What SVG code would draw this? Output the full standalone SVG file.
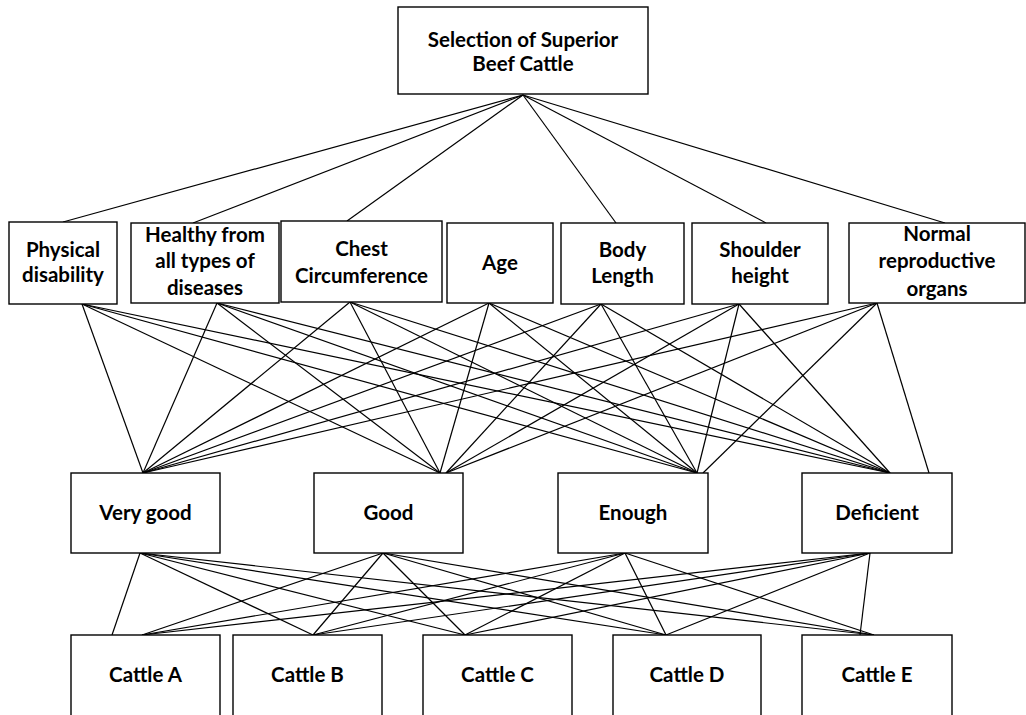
<svg xmlns="http://www.w3.org/2000/svg" width="1026" height="715" viewBox="0 0 1026 715">
<style>
.box{fill:#fff;stroke:#000;stroke-width:1.4}
text{font-family:Lato,"Liberation Sans",sans-serif;font-weight:bold;font-size:20.5px;fill:#000;text-anchor:middle}
#connectors line{stroke:#000;stroke-width:1.2}
</style>
<rect width="1026" height="715" fill="#fff"/>
<g id="connectors">
<line x1="523" y1="95" x2="63" y2="222"/>
<line x1="523" y1="95" x2="193" y2="223"/>
<line x1="523" y1="95" x2="347" y2="221"/>
<line x1="523" y1="95" x2="616" y2="223"/>
<line x1="523" y1="95" x2="766" y2="223"/>
<line x1="523" y1="95" x2="945" y2="223"/>
<line x1="82" y1="304" x2="143" y2="473"/>
<line x1="82" y1="304" x2="440" y2="473"/>
<line x1="82" y1="304" x2="697" y2="473"/>
<line x1="82" y1="304" x2="890" y2="473"/>
<line x1="217" y1="303" x2="143" y2="473"/>
<line x1="217" y1="303" x2="440" y2="473"/>
<line x1="217" y1="303" x2="697" y2="473"/>
<line x1="217" y1="303" x2="890" y2="473"/>
<line x1="350" y1="302" x2="143" y2="473"/>
<line x1="350" y1="302" x2="440" y2="473"/>
<line x1="350" y1="302" x2="697" y2="473"/>
<line x1="350" y1="302" x2="890" y2="473"/>
<line x1="489" y1="303" x2="143" y2="473"/>
<line x1="489" y1="303" x2="440" y2="473"/>
<line x1="489" y1="303" x2="697" y2="473"/>
<line x1="489" y1="303" x2="890" y2="473"/>
<line x1="601" y1="304" x2="143" y2="473"/>
<line x1="601" y1="304" x2="446" y2="473"/>
<line x1="601" y1="304" x2="697" y2="473"/>
<line x1="601" y1="304" x2="890" y2="473"/>
<line x1="739" y1="304" x2="143" y2="473"/>
<line x1="739" y1="304" x2="446" y2="473"/>
<line x1="739" y1="304" x2="697" y2="473"/>
<line x1="739" y1="304" x2="890" y2="473"/>
<line x1="877" y1="303" x2="143" y2="473"/>
<line x1="877" y1="303" x2="446" y2="473"/>
<line x1="877" y1="303" x2="703" y2="473"/>
<line x1="877" y1="303" x2="929" y2="473"/>
<line x1="140" y1="553" x2="112" y2="635"/>
<line x1="140" y1="553" x2="313" y2="635"/>
<line x1="140" y1="553" x2="465" y2="635"/>
<line x1="140" y1="553" x2="666" y2="635"/>
<line x1="140" y1="553" x2="874" y2="635"/>
<line x1="383" y1="553" x2="142" y2="635"/>
<line x1="383" y1="553" x2="313" y2="635"/>
<line x1="383" y1="553" x2="465" y2="635"/>
<line x1="383" y1="553" x2="666" y2="635"/>
<line x1="383" y1="553" x2="874" y2="635"/>
<line x1="625" y1="553" x2="142" y2="635"/>
<line x1="625" y1="553" x2="313" y2="635"/>
<line x1="625" y1="553" x2="465" y2="635"/>
<line x1="625" y1="553" x2="666" y2="635"/>
<line x1="625" y1="553" x2="874" y2="635"/>
<line x1="870" y1="553" x2="142" y2="635"/>
<line x1="870" y1="553" x2="313" y2="635"/>
<line x1="870" y1="553" x2="465" y2="635"/>
<line x1="870" y1="553" x2="666" y2="635"/>
<line x1="870" y1="553" x2="860" y2="635"/>
</g>
<g id="goal"><rect class="box" x="398" y="7" width="250" height="87"/><text x="523" y="47">Selection of Superior</text><text x="523" y="71">Beef Cattle</text></g>
<g id="c-physical"><rect class="box" x="9" y="222" width="108" height="82"/><text x="63" y="257">Physical</text><text x="63" y="282">disability</text></g>
<g id="c-healthy"><rect class="box" x="131" y="223" width="148" height="80"/><text x="205" y="242">Healthy from</text><text x="205" y="268">all types of</text><text x="205" y="295">diseases</text></g>
<g id="c-chest"><rect class="box" x="281" y="221" width="161" height="81"/><text x="361.5" y="256">Chest</text><text x="361.5" y="283">Circumference</text></g>
<g id="c-age"><rect class="box" x="447" y="223" width="106" height="80"/><text x="500" y="270">Age</text></g>
<g id="c-body"><rect class="box" x="561" y="223" width="123" height="81"/><text x="622.5" y="257">Body</text><text x="622.5" y="283">Length</text></g>
<g id="c-shoulder"><rect class="box" x="692" y="223" width="136" height="81"/><text x="760" y="257">Shoulder</text><text x="760" y="283">height</text></g>
<g id="c-normal"><rect class="box" x="849" y="223" width="176" height="80"/><text x="937" y="241">Normal</text><text x="937" y="268">reproductive</text><text x="937" y="296">organs</text></g>
<g id="r-verygood"><rect class="box" x="71" y="473" width="149" height="80"/><text x="145.5" y="520">Very good</text></g>
<g id="r-good"><rect class="box" x="314" y="473" width="149" height="80"/><text x="388.5" y="520">Good</text></g>
<g id="r-enough"><rect class="box" x="558" y="473" width="150" height="80"/><text x="633" y="520">Enough</text></g>
<g id="r-deficient"><rect class="box" x="802" y="473" width="150" height="80"/><text x="877" y="520">Deficient</text></g>
<g id="a-cattleA"><rect class="box" x="71" y="635" width="149" height="90"/><text x="145.5" y="682">Cattle A</text></g>
<g id="a-cattleB"><rect class="box" x="233" y="635" width="149" height="90"/><text x="307.5" y="682">Cattle B</text></g>
<g id="a-cattleC"><rect class="box" x="423" y="635" width="149" height="90"/><text x="497.5" y="682">Cattle C</text></g>
<g id="a-cattleD"><rect class="box" x="613" y="635" width="148" height="90"/><text x="687" y="682">Cattle D</text></g>
<g id="a-cattleE"><rect class="box" x="802" y="635" width="150" height="90"/><text x="877" y="682">Cattle E</text></g>
</svg>
